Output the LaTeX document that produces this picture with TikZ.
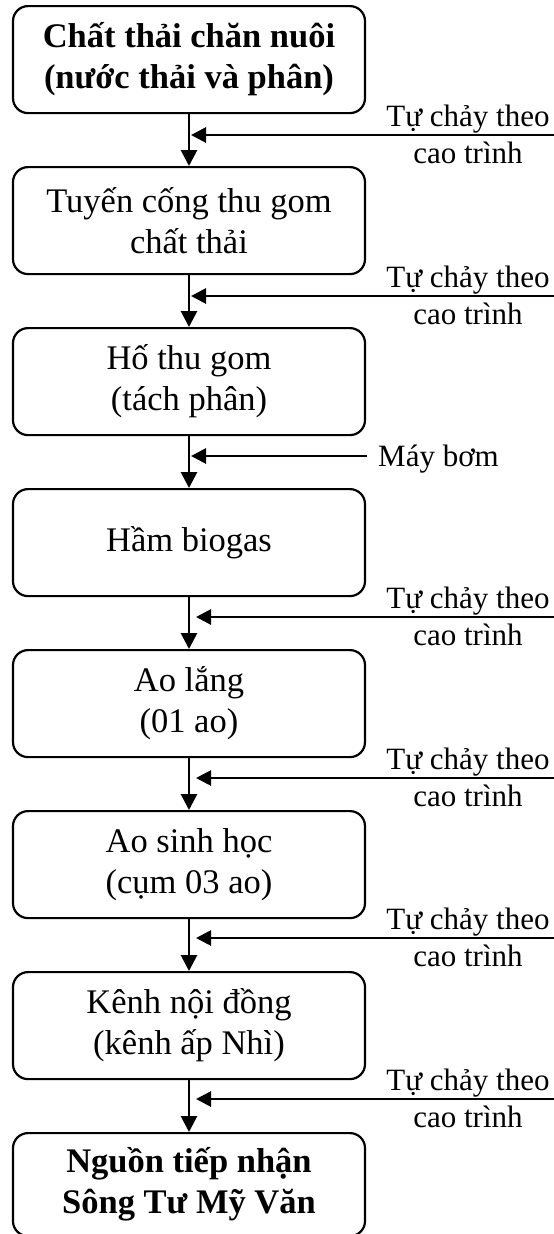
\documentclass[tikz,border=0pt]{standalone}
\usepackage{fontspec}
\setmainfont{Liberation Serif}
\usetikzlibrary{arrows.meta}
\tikzset{
  stage/.style={draw, line width=2.2pt, rounded corners=15pt,
    minimum width=352pt, minimum height=107pt, inner sep=0pt,
    align=center, anchor=north, font=\fontsize{34.5}{41}\selectfont},
  keystage/.style={stage, font=\fontsize{34.5}{41}\selectfont\bfseries},
  flow/.style={line width=2.8pt, -{Triangle[length=16pt,width=16pt]}},
  feed/.style={line width=2.8pt, -{Triangle[length=15pt,width=15pt]}},
  note/.style={anchor=base, inner sep=0pt, font=\fontsize{31}{37}\selectfont},
}
\begin{document}
\begin{tikzpicture}[x=1pt,y=-1pt]
\useasboundingbox (0,0) rectangle (554,1234);

% treatment stages, top to bottom
\node[keystage] (s1) at (189,5)    {Chất thải chăn nuôi\\(nước thải và phân)};
\node[stage]    (s2) at (189,166)  {Tuyến cống thu gom\\chất thải};
\node[stage]    (s3) at (189,327)  {Hố thu gom\\(tách phân)};
\node[stage]    (s4) at (189,488)  {Hầm biogas};
\node[stage]    (s5) at (189,649)  {Ao lắng\\(01 ao)};
\node[stage]    (s6) at (189,810)  {Ao sinh học\\(cụm 03 ao)};
\node[stage]    (s7) at (189,971)  {Kênh nội đồng\\(kênh ấp Nhì)};
\node[keystage, minimum height=103pt] (s8) at (189,1132) {Nguồn tiếp nhận\\Sông Tư Mỹ Văn};

% main flow
\draw[flow] (s1.south) -- (s2.north);
\draw[flow] (s2.south) -- (s3.north);
\draw[flow] (s3.south) -- (s4.north);
\draw[flow] (s4.south) -- (s5.north);
\draw[flow] (s5.south) -- (s6.north);
\draw[flow] (s6.south) -- (s7.north);
\draw[flow] (s7.south) -- (s8.north);

% side inputs
\coordinate (a1) at (554,135);  \coordinate (b1) at (191,135);
\coordinate (a2) at (554,296);  \coordinate (b2) at (191,296);
\coordinate (a3) at (367,456);  \coordinate (b3) at (191,456);
\coordinate (a4) at (554,617);  \coordinate (b4) at (196,617);
\coordinate (a5) at (554,778);  \coordinate (b5) at (196,778);
\coordinate (a6) at (554,938);  \coordinate (b6) at (196,938);
\coordinate (a7) at (554,1099); \coordinate (b7) at (196,1099);
\foreach \i in {1,...,7} {\draw[feed] (a\i) -- (b\i);}

% side input labels
\foreach \y/\n in {135/1,296/2,617/4,778/5,938/6,1099/7} {
  \node[note] (t\n) at (468,\y-9) {Tự chảy theo};
  \node[note] (c\n) at (468,\y+28) {cao trình};
}
\node[note, anchor=base west] (pump) at (378,466) {Máy bơm};
\end{tikzpicture}
\end{document}
